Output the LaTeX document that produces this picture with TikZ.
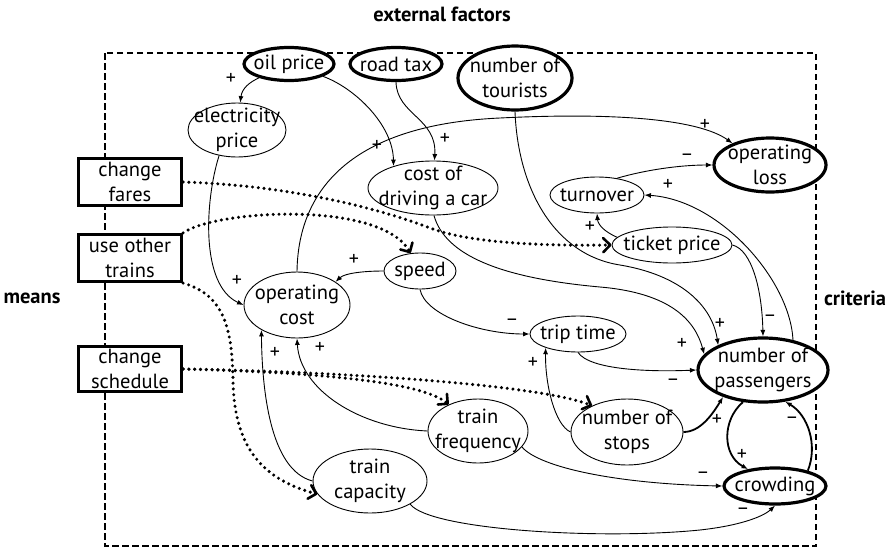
\documentclass[tikz,border=0pt]{standalone}
\usepackage{fontspec}
\setmainfont{PT Sans}
\usetikzlibrary{shapes.geometric,arrows.meta}
\newcommand{\nodefont}{\fontsize{20.5}{24.5}\selectfont}
\begin{document}
\begin{tikzpicture}[x=1pt,y=-1pt,
  factor/.style={ellipse, draw, fill=white, line width=0.9pt, inner sep=-40pt, align=center, font=\nodefont},
  keynode/.style={factor, line width=3.2pt},
  meansbox/.style={rectangle, draw, fill=white, line width=3.2pt, minimum width=103pt, inner sep=0pt, align=center, font=\nodefont},
  edge/.style={line width=0.9pt, -{Latex[length=6.5pt,width=5pt]}},
  strong/.style={edge, line width=1.8pt},
  action/.style={line width=3.4pt, line cap=round, dash pattern=on 0pt off 5.8pt, -{Straight Barb[length=7pt,width=14pt,line width=2.6pt,round]}},
  sign/.style={font=\fontsize{20}{20}\selectfont, inner sep=0pt, text height=0.7em, text depth=0pt},
  heading/.style={font=\fontsize{20.5}{20.5}\selectfont\bfseries},
  frame/.style={line width=1.2pt, dash pattern=on 6.5pt off 3.5pt}
]
\useasboundingbox (0,0) rectangle (891,549);

% system boundary
\draw[frame] (105,53) rectangle (816,546);

% headings
\node[heading] (ext) at (442,14) {external factors};
\node[heading] (meanslbl) at (32,298) {means};
\node[heading] (critlbl) at (855,298) {criteria};

% external factors
\node[keynode, minimum width=90pt, minimum height=33pt] (oil) at (289,64) {oil price};
\node[keynode, minimum width=92pt, minimum height=33pt] (tax) at (396,64) {road tax};
\node[keynode, minimum width=114pt, minimum height=64pt] (tourists) at (515,78) {number of\\tourists};

% internal variables
\node[factor, minimum width=98pt, minimum height=54pt] (elec) at (237,130) {electricity\\price};
\node[factor, minimum width=130pt, minimum height=54pt] (car) at (433,188) {cost of\\driving a car};
\node[factor, minimum width=94pt, minimum height=36pt] (turn) at (597,195) {turnover};
\node[factor, minimum width=120pt, minimum height=36pt] (ticket) at (672,245) {ticket price};
\node[factor, minimum width=72pt, minimum height=36pt] (speed) at (420,271) {speed};
\node[factor, minimum width=106pt, minimum height=66pt] (opcost) at (297,305) {operating\\cost};
\node[factor, minimum width=96pt, minimum height=36pt] (trip) at (578,334) {trip time};
\node[factor, minimum width=100pt, minimum height=64pt] (freq) at (478,431) {train\\frequency};
\node[factor, minimum width=112pt, minimum height=66pt] (stops) at (627,432) {number of\\stops};
\node[factor, minimum width=114pt, minimum height=64pt] (cap) at (370,481) {train\\capacity};

% criteria
\node[keynode, minimum width=112pt, minimum height=54pt] (loss) at (770,165) {operating\\loss};
\node[keynode, minimum width=130pt, minimum height=64pt] (pass) at (763,370) {number of\\passengers};
\node[keynode, minimum width=102pt, minimum height=36pt] (crowd) at (775,486) {crowding};

% means
\node[meansbox, minimum height=47pt] (fares) at (130,182) {change\\fares};
\node[meansbox, minimum height=47pt] (other) at (130,258) {use other\\trains};
\node[meansbox, minimum height=45pt] (sched) at (130,369) {change\\schedule};

% causal links
\draw[edge] (oil) .. controls (250,82) and (242,88) .. (elec);
\draw[edge] (oil) .. controls (355,88) and (393,125) .. (car.151);
\draw[edge] (tax.south) .. controls (397,115) and (437,118) .. (car.87);
\draw[edge] (tourists.south) .. controls (518,190) and (555,255) .. (620,265)
            .. controls (680,275) and (712,305) .. (pass.151);
\draw[edge] (car.272) .. controls (445,255) and (500,278) .. (600,287)
            .. controls (670,293) and (695,320) .. (pass.165);
\draw[edge] (opcost.north) .. controls (298,195) and (345,125) .. (500,118)
            .. controls (620,112) and (700,120) .. (loss.150);
\draw[edge] (turn.40) .. controls (645,170) and (680,165) .. (loss.west);
\draw[edge] (ticket.172) .. controls (605,232) and (598,225) .. (turn.south);
\draw[edge] (pass.45) .. controls (790,280) and (720,200) .. (turn.east);
\draw[edge] (ticket.east) .. controls (752,250) and (762,290) .. (pass.north);
\draw[edge] (speed.west) .. controls (365,271) and (345,273) .. (opcost.31);
\draw[edge] (elec.235) .. controls (205,200) and (200,285) .. (opcost.west);
\draw[edge] (speed.south) .. controls (425,315) and (480,334) .. (trip.west);
\draw[edge] (trip.south) .. controls (590,370) and (650,372) .. (pass.west);
\draw[edge] (stops.west) .. controls (555,425) and (545,385) .. (trip.203);
\draw[strong] (stops.east) .. controls (700,432) and (712,415) .. (pass.214);
\draw[edge] (freq.west) .. controls (360,428) and (300,390) .. (opcost.south);
\draw[edge] (cap.west) .. controls (270,470) and (262,390) .. (opcost.215);
\draw[edge] (freq.340) .. controls (540,468) and (620,484) .. (crowd.west);
\draw[edge] (cap.330) .. controls (430,530) and (600,540) .. (700,530)
            .. controls (745,525) and (765,515) .. (crowd.south);
\draw[strong] (pass.238) .. controls (722,420) and (722,455) .. (crowd.148);
\draw[strong] (crowd.25) .. controls (818,445) and (808,415) .. (pass.305);

% interventions
\draw[action] (fares.east) .. controls (280,185) and (370,205) .. (430,228)
              .. controls (470,243) and (540,246) .. (ticket.west);
\draw[action] (other.north east) .. controls (215,210) and (380,200) .. (speed.118);
\draw[action] (other.south east) .. controls (225,295) and (232,330) .. (233,380)
              .. controls (234,450) and (265,480) .. (cap.194);
\draw[action] (sched.east) .. controls (300,372) and (420,380) .. (freq.138);
\draw[action] (sched.east) .. controls (350,372) and (540,385) .. (stops.143);

% signs of the links
\node[sign] (s1) at (231,81) {+};
\node[sign] (s2) at (377,148) {+};
\node[sign] (s3) at (445,141) {+};
\node[sign] (s4) at (705,127) {+};
\node[sign] (s5) at (687,157) {–};
\node[sign] (s6) at (590,229) {+};
\node[sign] (s7) at (668,187) {+};
\node[sign] (s8) at (770,318) {–};
\node[sign] (s9) at (720,326) {+};
\node[sign] (s10) at (682,346) {+};
\node[sign] (s11) at (354,262) {+};
\node[sign] (s12) at (237,283) {+};
\node[sign] (s13) at (512,322) {–};
\node[sign] (s14) at (673,382) {–};
\node[sign] (s15) at (533,365) {+};
\node[sign] (s16) at (717,422) {+};
\node[sign] (s17) at (320,350) {+};
\node[sign] (s18) at (275,355) {+};
\node[sign] (s19) at (703,475) {–};
\node[sign] (s20) at (743,511) {–};
\node[sign] (s21) at (742,457) {+};
\node[sign] (s22) at (792,420) {–};
\end{tikzpicture}
\end{document}
